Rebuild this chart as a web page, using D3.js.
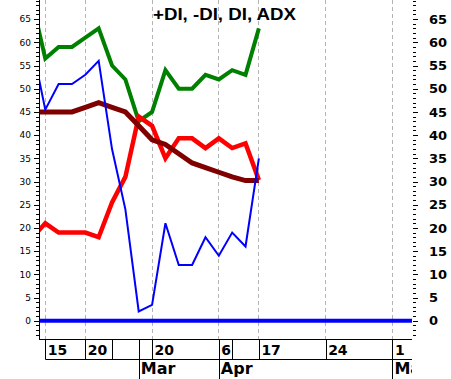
<!DOCTYPE html>
<html><head><meta charset="utf-8">
<script src="https://cdn.jsdelivr.net/npm/d3@7"></script>
<style>body{margin:0;background:#fff}svg{display:block}</style>
</head><body>
<svg id="c" width="451" height="379"></svg>
<script>
// ---- data ----
const periods   = [-1,0,1,2,3,4,5,6,7,8,9,10,11,12,13,14,15,16];
const plusDI    = [69,56.5,59,59,61,63,55,52,43,45,54,50,50,53,52,54,53,63];
const di        = [59.5,45.5,51,51,53,56,37,24,2,3.4,21,12,12,18,14,19,16,35];
const minusDI   = [17.8,21,19,19,19,18,25.5,31,44,42,35,39.3,39.3,37.2,39.3,37.2,38.2,30.3];
const adx       = [45,45,45,45,46,47,46,45,42,39,38,36,34,33,32,31,30.2,30.2];
const zeroLine  = [0];
const dayTickIdx    = [0,3,5,7,8,13,14,16,21,26];
const dayTickLabels = ["15","20","","","20","6","","17","24","1"];
const gridIdx       = [0,3,8,13,16,21,26];
const monthIdx      = [7,13,26];
const monthLabels   = ["Mar","Apr","May"];
const yLabelVals    = [0,5,10,15,20,25,30,35,40,45,50,55,60,65];
const title = "+DI, -DI, DI, ADX";

// ---- layout ----
const L = 39, R = 412, T = 0, B = 339;
const svg = d3.select("#c");
const x = d3.scaleLinear().domain([-0.47, 27.47]).range([L, R]);
const y = d3.scaleLinear().domain([-3.94, 69.12]).range([B, T]);

svg.append("defs").append("clipPath").attr("id","plot")
  .append("rect").attr("x",L).attr("y",T).attr("width",R-L).attr("height",B-T);
svg.select("defs").append("clipPath").attr("id","bot")
  .append("rect").attr("x",0).attr("y",B).attr("width",R).attr("height",379-B);

// gridlines
svg.append("g").selectAll("line").data(gridIdx).join("line")
  .attr("x1",d=>x(d)).attr("x2",d=>x(d)).attr("y1",T).attr("y2",B)
  .attr("stroke","#b4b4b4").attr("stroke-width",1).attr("stroke-dasharray","4,3")
  .attr("shape-rendering","crispEdges");

// series
const lineGen = vals => d3.line().x((d,i)=>x(periods[i])).y(d=>y(d))(vals);
const g = svg.append("g").attr("clip-path","url(#plot)");
g.append("path").attr("d",lineGen(plusDI)).attr("fill","none").attr("stroke","#008000").attr("stroke-width",4).attr("stroke-linejoin","miter");
g.append("path").attr("d",lineGen(minusDI)).attr("fill","none").attr("stroke","#ff0000").attr("stroke-width",4.5);
g.append("path").attr("d",lineGen(adx)).attr("fill","none").attr("stroke","#800000").attr("stroke-width",5);
g.append("path").attr("d",lineGen(di)).attr("fill","none").attr("stroke","#0000ff").attr("stroke-width",2);
g.selectAll("line.zero").data(zeroLine).join("line").attr("class","zero")
  .attr("x1",L).attr("x2",R).attr("y1",d=>y(d)).attr("y2",d=>y(d))
  .attr("stroke","#0000ff").attr("stroke-width",4);

// left axis
const minorVals = d3.range(-3, 70, 1);
svg.append("line").attr("x1",L).attr("x2",L).attr("y1",T).attr("y2",B)
  .attr("stroke","#000").attr("shape-rendering","crispEdges");
svg.append("g").selectAll("line").data(minorVals).join("line")
  .attr("x1",d=>d%5===0?L-5:L-3).attr("x2",L)
  .attr("y1",d=>Math.round(y(d))+0.5).attr("y2",d=>Math.round(y(d))+0.5)
  .attr("stroke","#000");
svg.append("g").selectAll("text").data(yLabelVals).join("text")
  .attr("x",31).attr("y",d=>y(d)).attr("dy","0.36em").attr("text-anchor","end")
  .attr("font-family","DejaVu Sans").attr("font-size",9).text(d=>d);

// right axis
svg.append("g").selectAll("line").data(minorVals).join("line")
  .attr("x1",413).attr("x2",d=>d%5===0?418:416)
  .attr("y1",d=>Math.round(y(d))+0.5).attr("y2",d=>Math.round(y(d))+0.5)
  .attr("stroke","#000");
svg.append("g").selectAll("text").data(yLabelVals).join("text")
  .attr("x",429).attr("y",d=>y(d)).attr("dy","0.36em")
  .attr("font-family","DejaVu Sans").attr("font-weight","bold").attr("font-size",13).text(d=>d);

// title
svg.append("text").attr("x",224.5).attr("y",20).attr("text-anchor","middle")
  .attr("font-family","Liberation Sans, Arial").attr("font-weight","bold").attr("font-size",17)
  .attr("textLength",143).attr("lengthAdjust","spacingAndGlyphs").text(title);

// bottom date axis
const bx = svg.append("g").attr("clip-path","url(#bot)");
bx.append("line").attr("x1",L).attr("x2",R).attr("y1",B+0.5).attr("y2",B+0.5).attr("stroke","#000");
bx.append("line").attr("x1",x(0)).attr("x2",R).attr("y1",359.5).attr("y2",359.5).attr("stroke","#000");
bx.selectAll("line.d").data(dayTickIdx).join("line").attr("class","d")
  .attr("x1",d=>Math.round(x(d))+0.5).attr("x2",d=>Math.round(x(d))+0.5).attr("y1",B).attr("y2",359)
  .attr("stroke","#000");
bx.selectAll("line.m").data(monthIdx).join("line").attr("class","m")
  .attr("x1",d=>Math.round(x(d))+0.5).attr("x2",d=>Math.round(x(d))+0.5).attr("y1",359).attr("y2",379)
  .attr("stroke","#000");
bx.selectAll("text.d").data(dayTickIdx).join("text").attr("class","d")
  .attr("x",d=>x(d)+2.5).attr("y",355)
  .attr("font-family","DejaVu Sans").attr("font-weight","bold").attr("font-size",14)
  .text((d,i)=>dayTickLabels[i]);
bx.selectAll("text.m").data(monthIdx).join("text").attr("class","m")
  .attr("x",d=>x(d)+2).attr("y",374)
  .attr("font-family","DejaVu Sans").attr("font-weight","bold").attr("font-size",16)
  .text((d,i)=>monthLabels[i]);
</script>
</body></html>
